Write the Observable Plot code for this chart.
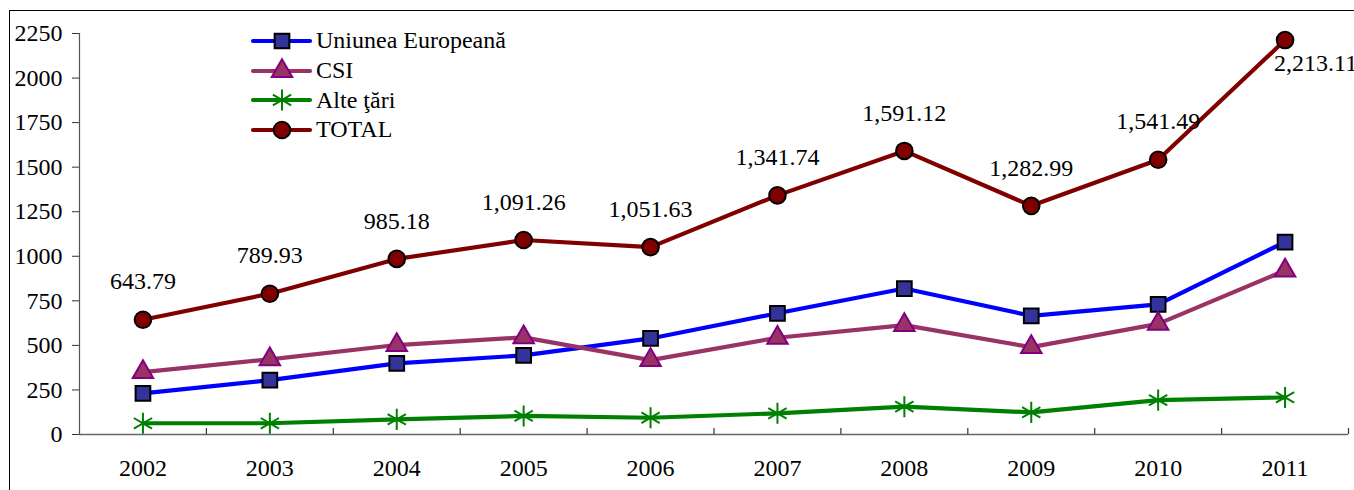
<!DOCTYPE html>
<html><head><meta charset="utf-8">
<script src="https://cdn.jsdelivr.net/npm/d3@7"></script>
<script src="https://cdn.jsdelivr.net/npm/@observablehq/plot@0.6"></script>
<style>
body{margin:0;background:#fff;overflow:hidden;font-family:"Liberation Serif","Times New Roman",serif;}
#wrap{position:relative;width:1354px;height:490px;overflow:hidden;}
#border{position:absolute;left:9px;top:10px;width:1420px;height:540px;border:1.5px solid #000;box-sizing:border-box;}
#chart{position:absolute;left:0;top:0;}
#legend{position:absolute;left:252px;top:26px;font-size:24px;color:#000;}
.row{display:flex;align-items:center;height:29.7px;white-space:nowrap;}
.row svg{margin-right:4px;overflow:visible;}
</style></head><body>
<div id="wrap"><div id="border"></div><div id="chart"></div><div id="legend"></div></div>
<script>
// ---- data ----
const years = [2002, 2003, 2004, 2005, 2006, 2007, 2008, 2009, 2010, 2011];
const seriesNames = ["Uniunea Europeană", "CSI", "Alte ţări", "TOTAL"];
const ueValues = [231, 305, 399, 444, 539, 680, 819, 666, 730, 1080];
const csiValues = [350, 422, 502, 545, 417, 543, 614, 490, 621, 920];
const alteValues = [63, 63, 85, 104, 94, 119, 156, 124, 193, 208];
const totalValues = [643.79, 789.93, 985.18, 1091.26, 1051.63, 1341.74, 1591.12, 1282.99, 1541.49, 2213.11];
const yTicks = [0, 250, 500, 750, 1000, 1250, 1500, 1750, 2000, 2250];

// ---- styles ----
const styles = [
  {line: "#0000ff", fill: "#333399", stroke: "#000000", symbol: "square", d3sym: d3.symbolSquare, r: 8.3, sw: 2},
  {line: "#993366", fill: "#993366", stroke: "#800080", symbol: "triangle", d3sym: d3.symbolTriangle, r: 7.6, sw: 2},
  {line: "#008000", fill: "none", stroke: "#008000", symbol: "asterisk", d3sym: d3.symbolAsterisk, r: 10, sw: 2},
  {line: "#800000", fill: "#800000", stroke: "#000000", symbol: "circle", d3sym: d3.symbolCircle, r: 8.3, sw: 2}
];
const valueArrays = [ueValues, csiValues, alteValues, totalValues];

const rows = [];
seriesNames.forEach((s, k) => years.forEach((yr, i) => rows.push({series: s, year: yr, value: valueArrays[k][i]})));
const totalRows = rows.filter(d => d.series === seriesNames[3]);
const lastYear = years[years.length - 1];
const xDomain = [years[0] - 0.5, lastYear + 0.5];
const bounds = years.map(y => y + 0.5);

const marks = [
  Plot.ruleX([xDomain[0]], {stroke: "#555", strokeWidth: 1.2}),
  Plot.ruleY([0], {stroke: "#666", strokeWidth: 1.5}),
  Plot.ruleX(bounds, {y1: 0, y2: 0, insetTop: -6, stroke: "#333", strokeWidth: 1.2}),
  Plot.axisY(yTicks, {tickSize: 7, tickPadding: 10, tickFormat: "d", stroke: "#333", label: null}),
  Plot.axisX(years, {tickSize: 0, tickPadding: 24, tickFormat: "d", label: null})
];
seriesNames.forEach((s, k) => {
  const st = styles[k];
  marks.push(Plot.line(rows.filter(d => d.series === s), {x: "year", y: "value", stroke: st.line, strokeWidth: 4.2, strokeLinejoin: "round"}));
});
seriesNames.forEach((s, k) => {
  const st = styles[k];
  marks.push(Plot.dot(rows.filter(d => d.series === s), {x: "year", y: "value", symbol: st.symbol, r: st.r, fill: st.fill, stroke: st.stroke, strokeWidth: st.sw}));
});
const fmt = d3.format(",.2f");
marks.push(Plot.text(totalRows, {filter: d => d.year !== lastYear, x: "year", y: "value", text: d => fmt(d.value), dy: -38, fontSize: 24}));
marks.push(Plot.text(totalRows, {filter: d => d.year === lastYear, x: "year", y: "value", text: d => fmt(d.value), dy: 23, dx: -11, textAnchor: "start", fontSize: 24}));

const chart = Plot.plot({
  width: 1354,
  height: 490,
  marginLeft: 79,
  marginRight: 6,
  marginTop: 33,
  marginBottom: 56,
  style: {fontFamily: '"Liberation Serif","Times New Roman",serif', fontSize: "24px", color: "#000", background: "transparent", overflow: "visible"},
  x: {type: "linear", domain: xDomain, axis: null, label: null},
  y: {domain: [0, 2250], axis: null, label: null},
  marks
});
document.getElementById("chart").appendChild(chart);

// ---- legend ----
const legend = d3.select("#legend");
seriesNames.forEach((s, k) => {
  const st = styles[k];
  const row = legend.append("div").attr("class", "row");
  const svg = row.append("svg").attr("width", 60).attr("height", 24);
  svg.append("line").attr("x1", 1).attr("x2", 58).attr("y1", 12).attr("y2", 12)
    .attr("stroke", st.line).attr("stroke-width", 4.2).attr("stroke-linecap", "round");
  svg.append("path").attr("transform", "translate(30,12)")
    .attr("d", d3.symbol().type(st.d3sym).size(Math.PI * st.r * st.r)())
    .attr("fill", st.fill).attr("stroke", st.stroke).attr("stroke-width", st.sw);
  row.append("span").text(s);
});
</script>
</body></html>
